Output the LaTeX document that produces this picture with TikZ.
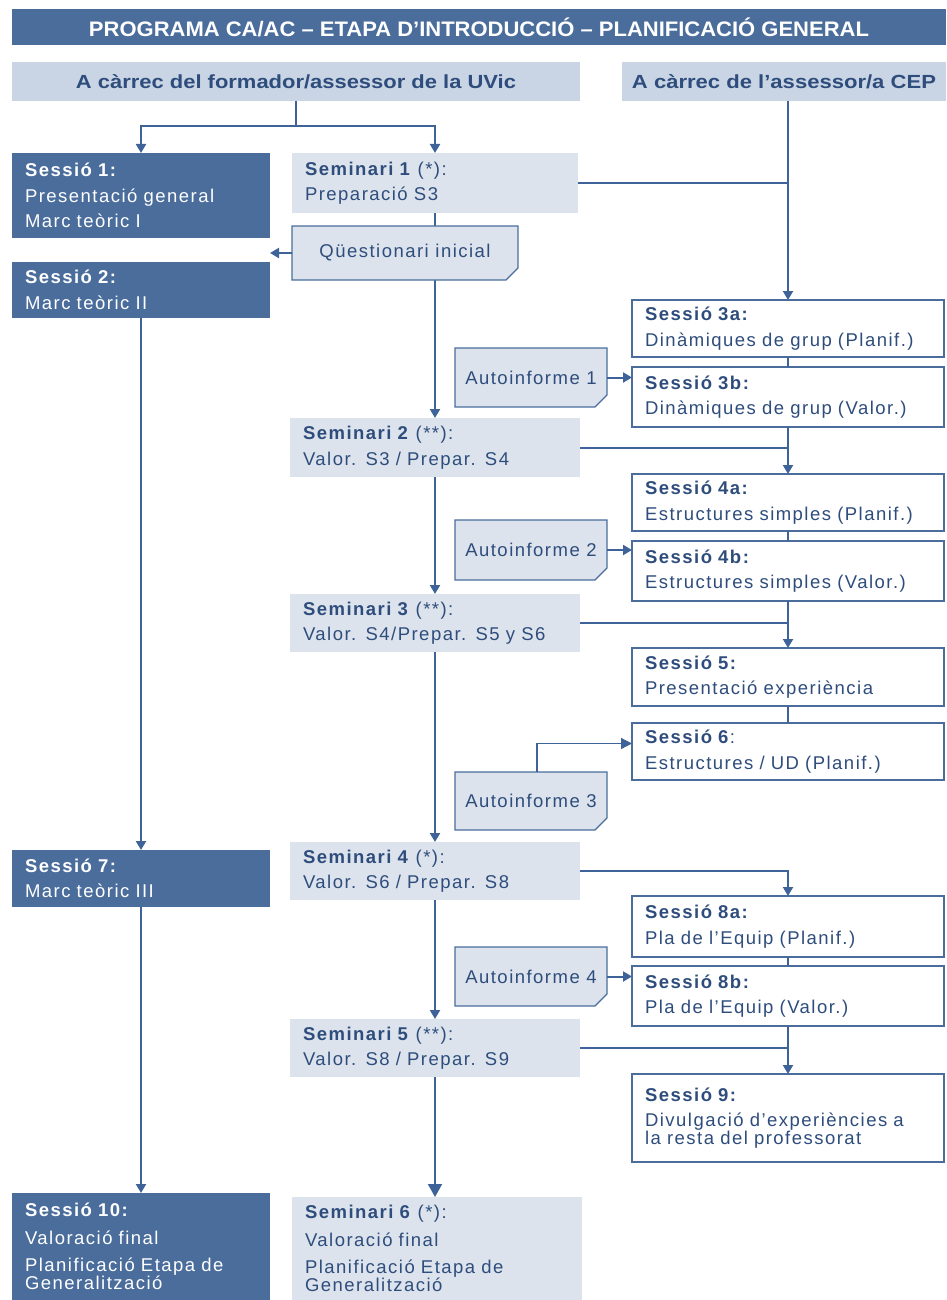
\documentclass[tikz,border=0pt]{standalone}
\usepackage{fontspec}
\usepackage{graphicx}
\setmainfont{Liberation Sans}
\usetikzlibrary{arrows.meta,shapes.misc}

\definecolor{cDark}{HTML}{4A6D9C}
\definecolor{cHead}{HTML}{C9D5E4}
\definecolor{cSemi}{HTML}{DCE3EC}
\definecolor{cText}{HTML}{2E4D7C}
\definecolor{cLine}{HTML}{3D6398}

\newcommand{\bodyfont}{\fontsize{18.5}{19.5}\selectfont\addfontfeature{LetterSpace=8}}

\tikzset{
  every node/.style={anchor=north west, outer sep=0pt},
  titlebar/.style={fill=cDark, text=white, inner sep=0pt, align=center},
  headbox/.style={fill=cHead, text=cText, inner sep=0pt, align=center},
  dbox/.style={fill=cDark, text=white, inner xsep=13pt, inner ysep=3pt, align=left, font=\bodyfont},
  sembox/.style={fill=cSemi, text=cText, inner xsep=13pt, inner ysep=3pt, align=left, font=\bodyfont},
  sesbox/.style={draw=cDark, line width=1.3pt, fill=white, text=cText, inner xsep=13pt, inner ysep=3pt, align=left, font=\bodyfont},
  notebox/.style={chamfered rectangle, chamfered rectangle corners=south east,
    chamfered rectangle xsep=6pt, chamfered rectangle ysep=6pt,
    draw=cDark, line width=1.3pt, fill=cSemi, text=cText, inner sep=0pt, align=center, font=\bodyfont},
  conn/.style={draw=cLine, line width=2pt},
  arr/.style={conn, -{Triangle[width=10pt,length=9pt]}},
  bigarr/.style={conn, -{Triangle[width=14pt,length=13pt]}},
  thinarr/.style={draw=cLine, line width=1.2pt, -{Triangle[width=11pt,length=11pt]}},
}

\begin{document}
\begin{tikzpicture}[x=1pt,y=-1pt]
\useasboundingbox (0,0) rectangle (946,1300);

% title and column headers
\node[titlebar, minimum width=934pt, minimum height=36pt] (title) at (12,9)
  {\resizebox{780pt}{\height}{\bfseries\fontsize{21}{21}\selectfont PROGRAMA CA/AC – ETAPA D'INTRODUCCIÓ – PLANIFICACIÓ GENERAL}};
\node[headbox, minimum width=568pt, minimum height=39pt] (hdL) at (12,62)
  {\resizebox{440pt}{\height}{\bfseries\fontsize{19}{19}\selectfont A càrrec del formador/assessor de la UVic}};
\node[headbox, minimum width=324pt, minimum height=39pt] (hdR) at (622,62)
  {\resizebox{304pt}{\height}{\bfseries\fontsize{19}{19}\selectfont A càrrec de l'assessor/a CEP}};

% left column: sessions led by the UVic trainer
\node[dbox, minimum width=258pt, minimum height=85pt, text width=232pt] (s1) at (12,153)
  {\textbf{Sessió 1:}\\[6pt]Presentació general\\[6pt]Marc teòric I};
\node[dbox, minimum width=258pt, minimum height=56pt, text width=232pt] (s2) at (12,262)
  {\textbf{Sessió 2:}\\[6pt]Marc teòric II};
\node[dbox, minimum width=258pt, minimum height=57pt, text width=232pt] (s7) at (12,850)
  {\textbf{Sessió 7:}\\[6pt]Marc teòric III};
\node[dbox, minimum width=258pt, minimum height=107pt, text width=232pt] (s10) at (12,1193)
  {\textbf{Sessió 10:}\\[8pt]Valoració final\\[8pt]Planificació Etapa de\\[-2pt]Generalització};

% middle column: seminars
\node[sembox, minimum width=286pt, minimum height=60pt, text width=260pt] (sem1) at (292,153)
  {\textbf{Seminari 1} (*):\\[6pt]Preparació S3};
\node[sembox, minimum width=290pt, minimum height=59pt, text width=264pt] (sem2) at (290,418)
  {\textbf{Seminari 2} (**):\\[6pt]Valor. S3 / Prepar. S4};
\node[sembox, minimum width=290pt, minimum height=58pt, text width=264pt] (sem3) at (290,594)
  {\textbf{Seminari 3} (**):\\[6pt]Valor. S4/Prepar. S5 y S6};
\node[sembox, minimum width=290pt, minimum height=58pt, text width=264pt] (sem4) at (290,842)
  {\textbf{Seminari 4} (*):\\[6pt]Valor. S6 / Prepar. S8};
\node[sembox, minimum width=290pt, minimum height=58pt, text width=264pt] (sem5) at (290,1019)
  {\textbf{Seminari 5} (**):\\[6pt]Valor. S8 / Prepar. S9};
\node[sembox, minimum width=290pt, minimum height=103pt, text width=264pt] (sem6) at (292,1197)
  {\textbf{Seminari 6} (*):\\[8pt]Valoració final\\[8pt]Planificació Etapa de\\[-2pt]Generalització};

% the seminar line runs behind the questionnaire box
\draw[arr] (sem1.south) -- (sem2.north);

% questionnaire and self-reports
\node[notebox, minimum width=226pt, minimum height=54pt] (q) at (292,226) {Qüestionari inicial};
\node[notebox, minimum width=152pt, minimum height=59pt] (au1) at (455,348) {Autoinforme 1};
\node[notebox, minimum width=152pt, minimum height=60pt] (au2) at (455,520) {Autoinforme 2};
\node[notebox, minimum width=152pt, minimum height=58pt] (au3) at (455,772) {Autoinforme 3};
\node[notebox, minimum width=152pt, minimum height=59pt] (au4) at (455,947) {Autoinforme 4};

% right column: sessions led by the CEP advisor
\node[sesbox, minimum width=312pt, minimum height=57pt, text width=286pt] (s3a) at (632,300)
  {\textbf{Sessió 3a:}\\[6pt]Dinàmiques de grup (Planif.)};
\node[sesbox, minimum width=312pt, minimum height=60pt, text width=286pt] (s3b) at (632,367)
  {\textbf{Sessió 3b:}\\[6pt]Dinàmiques de grup (Valor.)};
\node[sesbox, minimum width=312pt, minimum height=57pt, text width=286pt] (s4a) at (632,474)
  {\textbf{Sessió 4a:}\\[6pt]Estructures simples (Planif.)};
\node[sesbox, minimum width=312pt, minimum height=60pt, text width=286pt] (s4b) at (632,541)
  {\textbf{Sessió 4b:}\\[6pt]Estructures simples (Valor.)};
\node[sesbox, minimum width=312pt, minimum height=58pt, text width=286pt] (s5) at (632,648)
  {\textbf{Sessió 5:}\\[6pt]Presentació experiència};
\node[sesbox, minimum width=312pt, minimum height=57pt, text width=286pt] (s6) at (632,723)
  {\textbf{Sessió 6}:\\[6pt]Estructures / UD (Planif.)};
\node[sesbox, minimum width=312pt, minimum height=61pt, text width=286pt] (s8a) at (632,896)
  {\textbf{Sessió 8a:}\\[6pt]Pla de l'Equip (Planif.)};
\node[sesbox, minimum width=312pt, minimum height=60pt, text width=286pt] (s8b) at (632,966)
  {\textbf{Sessió 8b:}\\[6pt]Pla de l'Equip (Valor.)};
\node[sesbox, minimum width=312pt, minimum height=88pt, text width=286pt] (s9) at (632,1074)
  {\textbf{Sessió 9:}\\[6pt]Divulgació d'experiències a\\[-2pt]la resta del professorat};

% connectors from the left header
\draw[arr] (hdL.south) -- ++(0,25) -| (s1.north);
\draw[arr] (hdL.south) -- ++(0,25) -| (sem1.north);

% left column flow
\draw[arr] (s2.south) -- (s7.north);
\draw[arr] (s7.south) -- (s10.north);
\draw[arr] (q.west) -- (q.west -| s1.east);

% seminar flow
\draw[arr] (sem2.south) -- (sem3.north);
\draw[arr] (sem3.south) -- (sem4.north);
\draw[arr] (sem4.south) -- (sem5.north);
\draw[bigarr] (sem5.south) -- (sem5.south |- sem6.north);

% right column flow
\draw[arr] (hdR.south -| s3a.north) -- (s3a.north);
\draw[conn] (sem1.east) -- (sem1.east -| s3a.north);
\draw[conn] (s3a.south) -- (s3b.north);
\draw[arr] (s3b.south) -- (s4a.north);
\draw[conn] (sem2.east) -- (sem2.east -| s4a.north);
\draw[conn] (s4a.south) -- (s4b.north);
\draw[arr] (s4b.south) -- (s5.north);
\draw[conn] (sem3.east) -- (sem3.east -| s5.north);
\draw[conn] (s5.south) -- (s6.north);
\draw[arr] (sem4.east) -| (s8a.north);
\draw[conn] (s8a.south) -- (s8b.north);
\draw[arr] (s8b.south) -- (s9.north);
\draw[conn] (sem5.east) -- (sem5.east -| s9.north);

% self-reports feeding the evaluation sessions
\draw[arr] (au1.east) -- (au1.east -| s3b.west);
\draw[arr] (au2.east) -- (au2.east -| s4b.west);
\draw[thinarr] ([xshift=6pt]au3.north) |- ([yshift=8pt]s6.west);
\draw[arr] (au4.east) -- (au4.east -| s8b.west);
\end{tikzpicture}
\end{document}
